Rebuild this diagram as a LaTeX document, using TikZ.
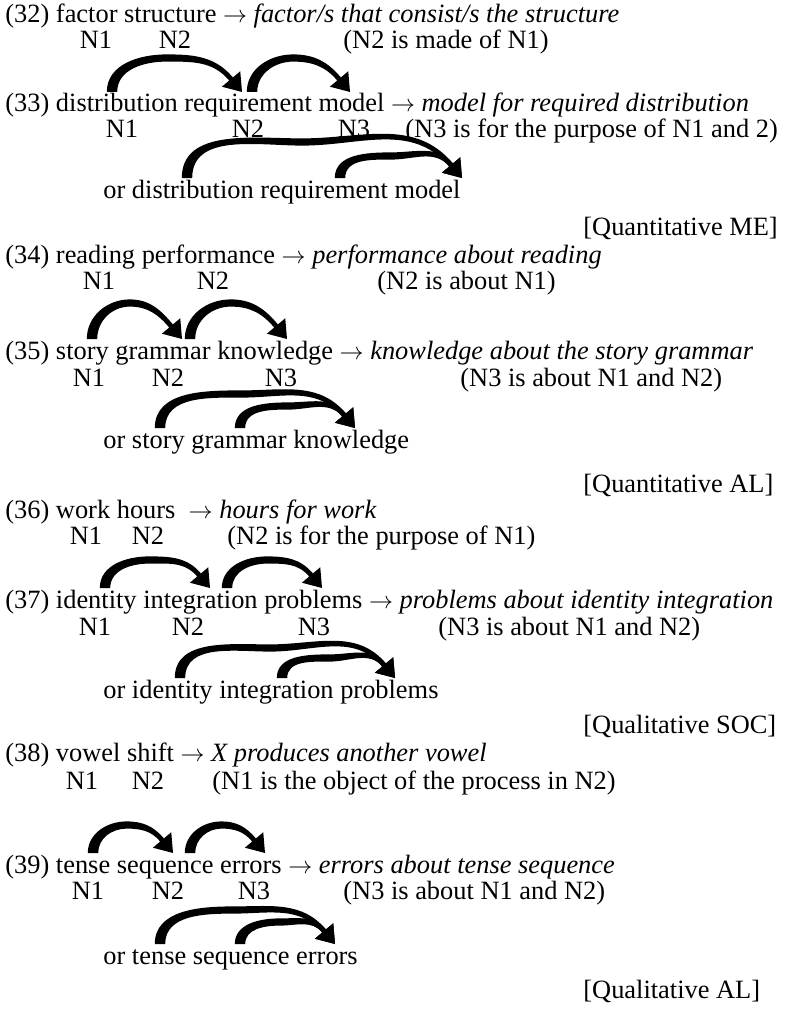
\documentclass[tikz,border=0pt]{standalone}
\usepackage{fontspec}
\setmainfont{Liberation Serif}
\usetikzlibrary{calc}

\tikzset{
  txt/.style={anchor=base west, inner sep=0pt},
  nlab/.style={anchor=base, inner sep=0pt},
}

% thick tapered bow from a start point to a tip, #3 = rise in pt
\newcommand{\bendarrow}[3]{%
  \fill let \p1=(#1), \p2=(#2), \p3=({0.58*\x1+0.42*\x2},{\y1+#3pt}) in
    (\x1-2.6pt,\y1) to[out=90,in=180] (\x3,\y3+1.8pt)
    to[out=0,in=130] (\x2-4.55pt,\y2+7.28pt)
    -- (\x2-0.87pt,\y2+10.37pt) -- (\x2,\y2) -- (\x2-10.07pt,\y2+2.65pt)
    -- (\x2-6.39pt,\y2+5.74pt)
    to[out=130,in=0] (\x3,\y3-1.8pt)
    to[out=180,in=90] (\x1+2.6pt,\y1) -- cycle;}

\newcommand{\goes}{\(\rightarrow\)}

\begin{document}
\begin{tikzpicture}[x=0.5pt,y=0.5pt,every node/.style={font=\fontsize{13.2}{15}\selectfont}]
  \useasboundingbox (0,0) rectangle (810,-1011);

  % (32)
  \node[txt] (e32) at (5,-23) {(32) factor structure \goes{} \textit{factor/s that consist/s the structure}};
  \node[nlab] (n32a) at (96,-49) {N1};
  \node[nlab] (n32b) at (175,-49) {N2};
  \node[txt] (r32) at (343,-49) {(N2 is made of N1)};

  % (33)
  \node[txt] (e33) at (5,-112) {(33) distribution requirement model \goes{} \textit{model for required distribution}};
  \node[nlab] (n33a) at (122,-138) {N1};
  \node[nlab] (n33b) at (248,-138) {N2};
  \node[nlab] (n33c) at (354,-138) {N3};
  \node[txt] (r33) at (405,-138) {(N3 is for the purpose of N1 and 2)};
  \node[txt] (o33) at (103,-198) {or distribution requirement model};
  \node[txt] (t33) at (583,-235) {[Quantitative ME]};

  % (34)
  \node[txt] (e34) at (5,-263) {(34) reading performance \goes{} \textit{performance about reading}};
  \node[nlab] (n34a) at (99,-289) {N1};
  \node[nlab] (n34b) at (213,-289) {N2};
  \node[txt] (r34) at (377,-289) {(N2 is about N1)};

  % (35)
  \node[txt] (e35) at (5,-359) {(35) story grammar knowledge \goes{} \textit{knowledge about the story grammar}};
  \node[nlab] (n35a) at (89,-386) {N1};
  \node[nlab] (n35b) at (168,-386) {N2};
  \node[nlab] (n35c) at (281,-386) {N3};
  \node[txt] (r35) at (460,-386) {(N3 is about N1 and N2)};
  \node[txt] (o35) at (103,-448) {or story grammar knowledge};
  \node[txt] (t35) at (583,-492) {[Quantitative AL]};

  % (36)
  \node[txt] (e36) at (5,-518) {(36) work hours\ \ \goes{} \textit{hours for work}};
  \node[nlab] (n36a) at (86,-544) {N1};
  \node[nlab] (n36b) at (148,-544) {N2};
  \node[txt] (r36) at (227,-544) {(N2 is for the purpose of N1)};

  % (37)
  \node[txt] (e37) at (5,-608) {(37) identity integration problems \goes{} \textit{problems about identity integration}};
  \node[nlab] (n37a) at (95,-635) {N1};
  \node[nlab] (n37b) at (188,-635) {N2};
  \node[nlab] (n37c) at (314,-635) {N3};
  \node[txt] (r37) at (438,-635) {(N3 is about N1 and N2)};
  \node[txt] (o37) at (103,-698) {or identity integration problems};
  \node[txt] (t37) at (583,-733) {[Qualitative SOC]};

  % (38)
  \node[txt] (e38) at (5,-761) {(38) vowel shift \goes{} \textit{X produces another vowel}};
  \node[nlab] (n38a) at (82,-789) {N1};
  \node[nlab] (n38b) at (148,-789) {N2};
  \node[txt] (r38) at (212,-789) {(N1 is the object of the process in N2)};

  % (39)
  \node[txt] (e39) at (5,-873) {(39) tense sequence errors \goes{} \textit{errors about tense sequence}};
  \node[nlab] (n39a) at (88,-899) {N1};
  \node[nlab] (n39b) at (168,-899) {N2};
  \node[nlab] (n39c) at (254,-899) {N3};
  \node[txt] (r39) at (343,-899) {(N3 is about N1 and N2)};
  \node[txt] (o39) at (103,-964) {or tense sequence errors};
  \node[txt] (t39) at (583,-998) {[Qualitative AL]};

  % bow ends
  \coordinate (a33s1) at (112,-92);  \coordinate (a33t1) at (242,-92);
  \coordinate (a33s2) at (252,-92);  \coordinate (a33t2) at (350,-92);
  \coordinate (b33s1) at (187,-178); \coordinate (b33s2) at (340,-178);
  \coordinate (b33t) at (462,-178);
  \coordinate (a35s1) at (92,-339);  \coordinate (a35t1) at (182,-339);
  \coordinate (a35s2) at (190,-339); \coordinate (a35t2) at (287,-339);
  \coordinate (b35s1) at (160,-428); \coordinate (b35s2) at (240,-428);
  \coordinate (b35t) at (355,-428);
  \coordinate (a37s1) at (105,-588); \coordinate (a37t1) at (210,-588);
  \coordinate (a37s2) at (227,-588); \coordinate (a37t2) at (322,-588);
  \coordinate (b37s1) at (180,-678); \coordinate (b37s2) at (282,-678);
  \coordinate (b37t) at (395,-678);
  \coordinate (a39s1) at (93,-853);  \coordinate (a39t1) at (173,-853);
  \coordinate (a39s2) at (190,-853); \coordinate (a39t2) at (265,-853);
  \coordinate (b39s1) at (160,-944); \coordinate (b39s2) at (240,-944);
  \coordinate (b39t) at (335,-944);

  \bendarrow{a33s1}{a33t1}{17}
  \bendarrow{a33s2}{a33t2}{17}
  \bendarrow{b33s1}{b33t}{18}
  \bendarrow{b33s2}{b33t}{11}
  \bendarrow{a35s1}{a35t1}{18}
  \bendarrow{a35s2}{a35t2}{18}
  \bendarrow{b35s1}{b35t}{17}
  \bendarrow{b35s2}{b35t}{11}
  \bendarrow{a37s1}{a37t1}{14}
  \bendarrow{a37s2}{a37t2}{14}
  \bendarrow{b37s1}{b37t}{15}
  \bendarrow{b37s2}{b37t}{10}
  \bendarrow{a39s1}{a39t1}{14}
  \bendarrow{a39s2}{a39t2}{14}
  \bendarrow{b39s1}{b39t}{17}
  \bendarrow{b39s2}{b39t}{11}
\end{tikzpicture}
\end{document}
